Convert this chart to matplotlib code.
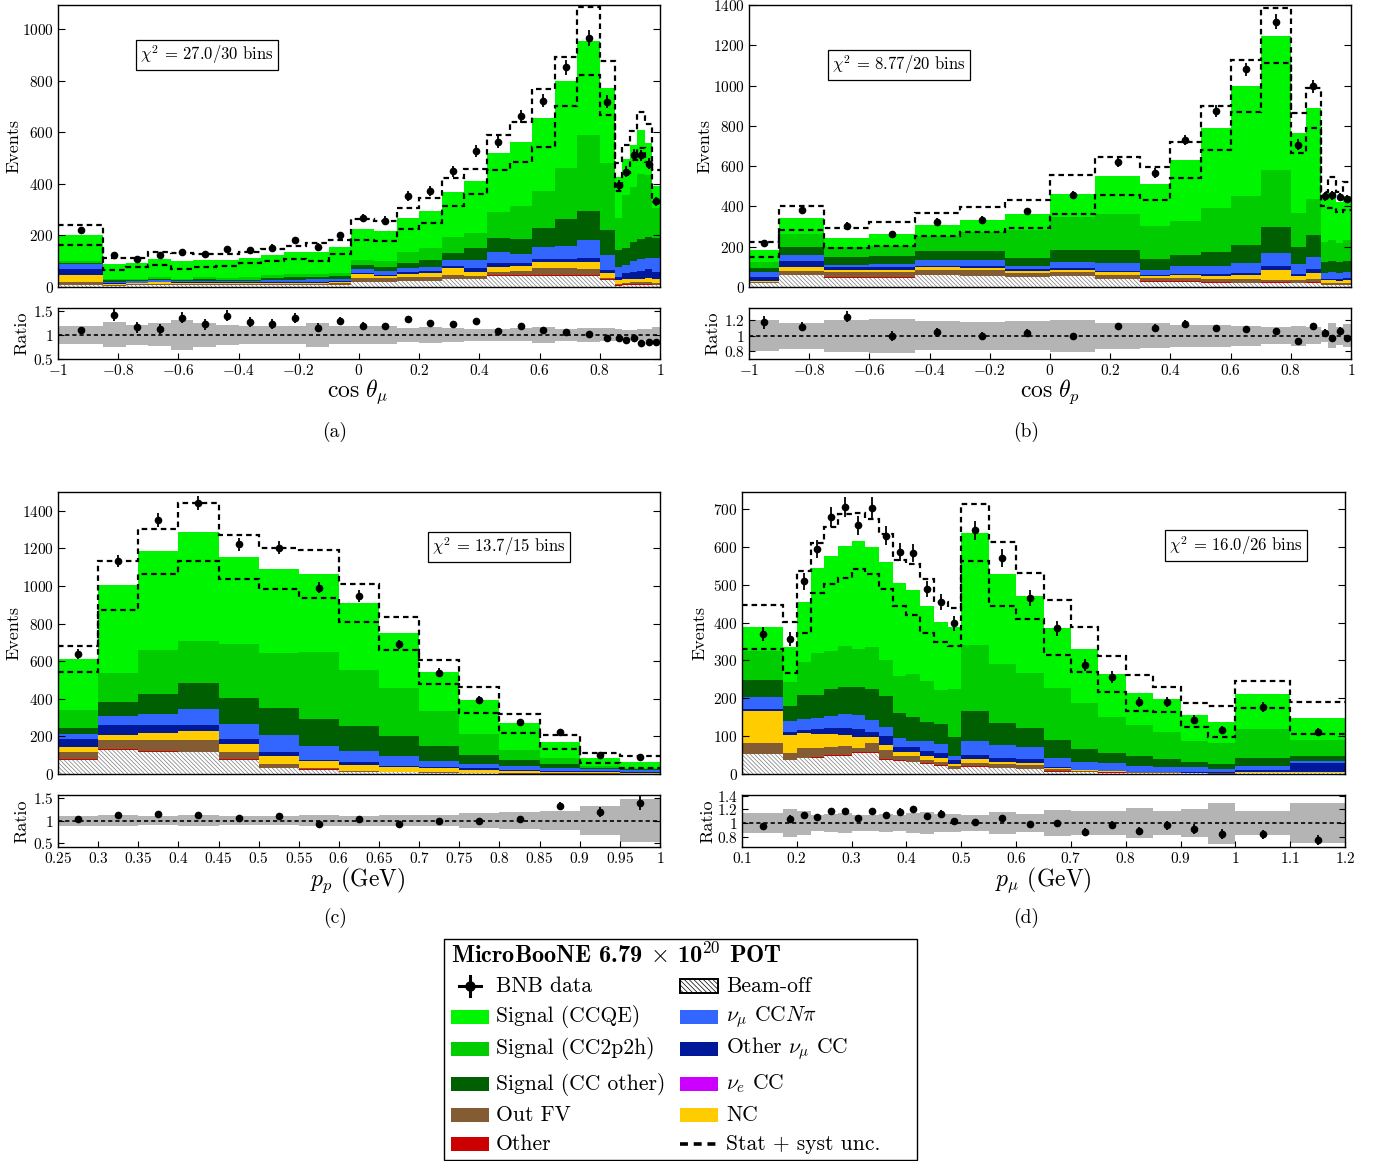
import numpy as np
import matplotlib
matplotlib.use('Agg')
import matplotlib.pyplot as plt
from matplotlib.patches import Rectangle
from matplotlib.font_manager import FontProperties

plt.rcParams.update({
    'font.family': 'serif',
    'font.serif': ['cmr10', 'DejaVu Serif'],
    'mathtext.fontset': 'cm',
    'axes.unicode_minus': False,
    'hatch.linewidth': 0.5,
    'axes.linewidth': 1.0,
})

# ---------------- data: panel (a) cos theta_mu ----------------
a_edges = [-1.0, -0.85, -0.775, -0.7, -0.625, -0.55, -0.475, -0.4, -0.325, -0.25, -0.175, -0.1, -0.025,
           0.05, 0.125, 0.2, 0.275, 0.35, 0.425, 0.5, 0.575, 0.65, 0.725, 0.8, 0.85, 0.875, 0.9, 0.925,
           0.95, 0.975, 1.0]
a_beamoff = [6, 5, 6, 8, 7, 7, 8, 7, 8, 8, 8, 9, 21, 21, 23, 23, 30, 30, 44, 44, 44, 44, 44, 27, 4, 8, 8, 8, 8, 6]
a_other = [0, 0, 0, 0, 0, 0, 0, 0, 0, 0, 0, 0, 0, 0, 1, 1, 1, 1, 1, 1, 1, 1, 1, 3, 3, 3, 3, 3, 3, 3]
a_outfv = [13, 4, 5, 5, 4, 4, 4, 4, 5, 4, 4, 5, 15, 13, 14, 16, 14, 12, 15, 19, 28, 28, 24, 6, 5, 6, 7, 7, 7, 5]
a_nc = [26, 4, 4, 5, 4, 4, 4, 4, 4, 5, 4, 5, 15, 9, 13, 16, 28, 17, 19, 19, 23, 23, 30, 20, 14, 13, 14, 15, 18, 18]
a_othercc = [26, 2, 2, 3, 3, 3, 3, 3, 3, 3, 3, 3, 5, 5, 6, 8, 10, 13, 13, 9, 13, 13, 15, 10, 14, 26, 28, 30, 32, 28]
a_ccnpi = [17, 6, 5, 7, 6, 7, 6, 6, 7, 9, 11, 10, 13, 16, 18, 15, 22, 32, 43, 36, 48, 51, 69, 59, 39, 30, 40, 45, 45, 51]
a_ccother = [7, 5, 4, 4, 3, 5, 4, 5, 8, 10, 10, 11, 17, 15, 20, 26, 26, 48, 57, 57, 74, 105, 114, 97, 65, 64, 75, 80, 80, 78]
a_cc2p2h = [6, 5, 5, 7, 6, 8, 6, 8, 10, 12, 12, 13, 19, 21, 39, 45, 65, 56, 99, 128, 140, 197, 292, 259, 123, 208, 215, 250, 240, 117]
a_ccqe = [100, 57, 64, 71, 68, 66, 70, 77, 80, 83, 84, 100, 119, 118, 133, 147, 172, 201, 230, 250, 285, 336, 366, 292, 160, 139, 160, 170, 127, 87]
a_data = [220, 124, 110, 124, 137, 127, 147, 145, 153, 182, 157, 201, 267, 258, 354, 371, 449, 527, 563, 663, 724, 853, 968, 720, 397, 447, 514, 511, 479, 332]
a_unc = [0.19, 0.26, 0.2, 0.24, 0.32, 0.25, 0.21, 0.18, 0.18, 0.18, 0.25, 0.18, 0.18, 0.18, 0.15, 0.16, 0.15, 0.12,
         0.13, 0.135, 0.17, 0.12, 0.14, 0.135, 0.13, 0.11, 0.10, 0.115, 0.13, 0.16]

# ---------------- data: panel (b) cos theta_p ----------------
b_edges = [-1.0, -0.9, -0.75, -0.6, -0.45, -0.3, -0.15, 0.0, 0.15, 0.3, 0.4, 0.5, 0.6, 0.7, 0.8, 0.85, 0.9,
           0.925, 0.95, 0.975, 1.0]
b_beamoff = [18, 60, 47, 47, 60, 55, 50, 55, 40, 27, 27, 22, 18, 20, 18, 22, 8, 8, 8, 8]
b_other = [1, 1, 1, 1, 1, 1, 1, 1, 1, 1, 1, 2, 3, 3, 2, 2, 2, 2, 2, 2]
b_outfv = [8, 19, 24, 24, 24, 28, 20, 17, 20, 17, 17, 16, 17, 12, 15, 14, 8, 8, 8, 8]
b_nc = [5, 17, 12, 12, 12, 12, 10, 12, 12, 10, 15, 15, 20, 47, 20, 30, 15, 15, 14, 15]
b_othercc = [18, 33, 13, 13, 8, 6, 6, 7, 8, 5, 5, 8, 10, 20, 10, 20, 8, 8, 8, 10]
b_ccnpi = [22, 30, 11, 16, 28, 31, 18, 33, 37, 25, 37, 39, 50, 66, 48, 60, 30, 32, 30, 33]
b_ccother = [20, 40, 42, 42, 47, 44, 37, 60, 64, 53, 55, 70, 89, 129, 84, 109, 55, 58, 55, 55]
b_cc2p2h = [33, 63, 47, 50, 75, 95, 141, 165, 180, 164, 170, 221, 245, 285, 168, 181, 95, 100, 95, 100]
b_ccqe = [60, 79, 46, 58, 55, 63, 79, 110, 190, 211, 303, 397, 546, 665, 398, 450, 214, 238, 202, 221]
b_data = [217, 383, 303, 263, 325, 335, 375, 457, 622, 565, 730, 873, 1080, 1318, 707, 997, 450, 455, 447, 438]
b_unc = [0.2, 0.17, 0.21, 0.22, 0.19, 0.18, 0.19, 0.21, 0.17, 0.16, 0.14, 0.14, 0.13, 0.11, 0.13, 0.11, 0.08,
         0.16, 0.12, 0.15]

# ---------------- data: panel (c) p_p ----------------
c_edges = [0.25, 0.3, 0.35, 0.4, 0.45, 0.5, 0.55, 0.6, 0.65, 0.7, 0.75, 0.8, 0.85, 0.9, 0.95, 1.0]
c_beamoff = [76, 129, 117, 115, 76, 32, 23, 12, 9, 5, 3, 2, 2, 1, 1]
c_other = [2, 4, 4, 3, 2, 2, 1, 1, 0, 0, 0, 0, 0, 0, 0]
c_outfv = [39, 46, 61, 64, 37, 21, 6, 5, 3, 4, 4, 3, 2, 2, 1]
c_nc = [24, 26, 35, 48, 44, 42, 37, 31, 25, 21, 16, 13, 8, 6, 5]
c_othercc = [45, 53, 41, 28, 27, 20, 9, 13, 7, 7, 7, 5, 6, 5, 5]
c_ccnpi = [26, 51, 60, 87, 79, 90, 74, 63, 50, 34, 25, 21, 16, 13, 9]
c_ccother = [32, 76, 108, 138, 138, 143, 145, 131, 106, 76, 44, 32, 21, 5, 4]
c_cc2p2h = [94, 154, 234, 224, 287, 295, 354, 297, 256, 189, 115, 53, 28, 8, 5]
c_ccqe = [274, 465, 524, 580, 464, 447, 417, 357, 292, 207, 180, 140, 87, 47, 35]
c_data = [638, 1133, 1352, 1441, 1222, 1204, 992, 946, 689, 539, 394, 276, 223, 103, 90]
c_unc = [0.11, 0.13, 0.10, 0.12, 0.10, 0.10, 0.12, 0.11, 0.12, 0.12, 0.17, 0.19, 0.21, 0.31, 0.47]

# ---------------- data: panel (d) p_mu ----------------
d_edges = [0.1, 0.175, 0.2, 0.225, 0.25, 0.275, 0.3, 0.325, 0.35, 0.375, 0.4, 0.425, 0.45, 0.475, 0.5,
           0.55, 0.6, 0.65, 0.7, 0.75, 0.8, 0.85, 0.9, 0.95, 1.0, 1.1, 1.2]
d_beamoff = [52, 37, 41, 43, 48, 48, 56, 55, 37, 34, 31, 26, 21, 12, 19, 15, 12, 6, 4, 3, 2, 2, 2, 1, 2, 2]
d_other = [1, 1, 2, 2, 2, 2, 2, 2, 2, 2, 2, 2, 2, 2, 2, 2, 2, 2, 1, 1, 1, 1, 0, 0, 0, 0]
d_outfv = [30, 18, 25, 25, 22, 24, 12, 24, 24, 12, 14, 9, 9, 6, 9, 10, 11, 4, 3, 2, 1, 1, 1, 1, 1, 1]
d_nc = [84, 47, 40, 36, 34, 29, 27, 18, 14, 11, 11, 10, 9, 6, 10, 6, 5, 3, 2, 1, 1, 0, 0, 0, 1, 1]
d_othercc = [6, 7, 8, 12, 15, 18, 21, 13, 23, 13, 14, 15, 15, 11, 9, 10, 9, 4, 1, 2, 1, 1, 2, 2, 7, 24]
d_ccnpi = [30, 30, 29, 29, 32, 37, 38, 31, 25, 24, 15, 24, 24, 11, 37, 34, 33, 24, 22, 19, 15, 14, 13, 10, 10, 6]
d_ccother = [46, 40, 64, 62, 71, 73, 75, 82, 81, 66, 63, 51, 51, 50, 80, 59, 49, 47, 32, 28, 27, 20, 15, 12, 20, 14]
d_cc2p2h = [75, 64, 86, 110, 102, 108, 100, 110, 94, 98, 114, 110, 90, 127, 174, 154, 147, 137, 122, 94, 82, 73, 54, 57, 78, 42]
d_ccqe = [65, 91, 160, 225, 251, 264, 285, 266, 261, 244, 223, 196, 180, 163, 298, 238, 203, 160, 143, 114, 85, 85, 69, 55, 92, 57]
d_data = [370, 356, 509, 594, 679, 705, 657, 704, 630, 587, 584, 489, 454, 398, 644, 570, 465, 385, 288, 256, 190, 190, 143, 116, 176, 110]
d_unc = [0.15, 0.2, 0.18, 0.12, 0.13, 0.14, 0.12, 0.12, 0.13, 0.12, 0.14, 0.16, 0.13, 0.13, 0.12, 0.16, 0.13,
         0.19, 0.18, 0.18, 0.22, 0.17, 0.21, 0.3, 0.17, 0.29]

chi_texts = [r'$\chi^2$ = 27.0/30 bins', r'$\chi^2$ = 8.77/20 bins',
             r'$\chi^2$ = 13.7/15 bins', r'$\chi^2$ = 16.0/26 bins']

legend_col1 = ['BNB data', 'Signal (CCQE)', 'Signal (CC2p2h)', 'Signal (CC other)', 'Out FV', 'Other']
legend_col2 = ['Beam-off', r'$\nu_{\mu}$ CC$N\pi$', r'Other $\nu_{\mu}$ CC', r'$\nu_{e}$ CC', 'NC',
               'Stat + syst unc.']
legend_title = r'MicroBooNE 6.79 $\times$ 10$^{\mathbf{20}}$ POT'

# ---------------- styles ----------------
COL = {
    'other': '#cc0000', 'outfv': '#845c33', 'nc': '#ffcc00', 'nue': '#cc00ff',
    'othercc': '#00189a', 'ccnpi': '#3366ff', 'ccother': '#005f00',
    'cc2p2h': '#00cc00', 'ccqe': '#00f500',
}
HATCH = '\\' * 8

W, H = 1388, 1161
fig = plt.figure(figsize=(W / 100, H / 100), dpi=100)


def fr(l, t, r, b):
    return [l / W, 1 - b / H, (r - l) / W, (b - t) / H]


def mfmt(v):
    v = float(np.round(v, 3))
    return f'${v:g}$'


def draw(main_box, ratio_box, edges, comps, data, unc, ylim, yticks, rylim, ryticks, xticks, chi, chipos,
         xlabel, xlab_pos, ylab_x, rlab_x):
    ax = fig.add_axes(fr(*main_box))
    axr = fig.add_axes(fr(*ratio_box))
    edges = np.array(edges, float)
    centers = 0.5 * (edges[1:] + edges[:-1])
    bottom = np.zeros(len(edges) - 1)
    beam = np.array(comps[0], float)
    ax.stairs(bottom + beam, edges, baseline=bottom.copy(), fill=True, facecolor='white',
              edgecolor='#7a7a7a', hatch=HATCH, linewidth=0)
    bottom = bottom + beam
    for key, vals in zip(['other', 'outfv', 'nc', 'othercc', 'ccnpi', 'ccother', 'cc2p2h', 'ccqe'], comps[1:]):
        vals = np.array(vals, float)
        ax.stairs(bottom + vals, edges, baseline=bottom.copy(), fill=True, color=COL[key], linewidth=0)
        bottom = bottom + vals
    total = bottom
    unc = np.array(unc, float)
    data = np.array(data, float)
    ax.stairs(total * (1 + unc), edges, baseline=None, color='black', linestyle=(0, (2.5, 1.8)), linewidth=1.6)
    ax.stairs(total * (1 - unc), edges, baseline=None, color='black', linestyle=(0, (2.5, 1.8)), linewidth=1.6)
    ax.errorbar(centers, data, yerr=np.sqrt(data), fmt='o', color='black', ms=4.5, elinewidth=1.3,
                capsize=0, zorder=5)
    ax.set_xlim(edges[0], edges[-1])
    ax.set_ylim(*ylim)
    ax.set_yticks(yticks)
    ax.set_yticklabels([mfmt(v) for v in yticks], fontsize=11)
    ax.set_xticks([])
    ax.tick_params(axis='y', direction='in', length=5, width=0.8, right=True, pad=3)
    ax.set_ylabel('Events', fontsize=13)
    ax.yaxis.set_label_coords(ylab_x, 0.5)
    ax.text(chipos[0], chipos[1], chi, transform=ax.transAxes, ha='center', va='center', fontsize=12,
            bbox=dict(boxstyle='square,pad=0.24', fc='white', ec='black', lw=0.9), zorder=6)
    # ratio
    axr.stairs(1 + unc, edges, baseline=1 - unc, fill=True, color='#b4b4b4', linewidth=0)
    axr.axhline(1.0, color='black', linestyle=(0, (2.5, 1.8)), linewidth=1.2)
    axr.errorbar(centers, data / total, yerr=np.sqrt(data) / total, fmt='o', color='black', ms=4.5,
                 elinewidth=1.3, capsize=0, zorder=5)
    axr.set_xlim(edges[0], edges[-1])
    axr.set_ylim(*rylim)
    axr.set_yticks(ryticks)
    axr.set_yticklabels([mfmt(v) for v in ryticks], fontsize=11)
    axr.set_xticks(xticks)
    axr.set_xticklabels([mfmt(v) for v in xticks], fontsize=11)
    axr.tick_params(direction='in', length=4, width=0.8, right=True, pad=3)
    axr.set_ylabel('Ratio', fontsize=13)
    axr.yaxis.set_label_coords(rlab_x, 0.5)
    fig.text(xlab_pos[0] / W, 1 - xlab_pos[1] / H, xlabel, ha='center', va='center', fontsize=17)


draw((58, 5, 660, 287), (58, 308, 660, 359), a_edges,
     [a_beamoff, a_other, a_outfv, a_nc, a_othercc, a_ccnpi, a_ccother, a_cc2p2h, a_ccqe],
     a_data, a_unc, (0, 1095), [0, 200, 400, 600, 800, 1000], (0.5, 1.56), [0.5, 1, 1.5],
     [-1, -0.8, -0.6, -0.4, -0.2, 0, 0.2, 0.4, 0.6, 0.8, 1], chi_texts[0], (0.247, 0.823),
     r'$\cos\,\theta_{\mu}$', (358, 392), -0.061, -0.048)

draw((749, 5, 1351, 287), (749, 308, 1351, 359), b_edges,
     [b_beamoff, b_other, b_outfv, b_nc, b_othercc, b_ccnpi, b_ccother, b_cc2p2h, b_ccqe],
     b_data, b_unc, (0, 1400), [0, 200, 400, 600, 800, 1000, 1200, 1400], (0.7, 1.36), [0.8, 1, 1.2],
     [-1, -0.8, -0.6, -0.4, -0.2, 0, 0.2, 0.4, 0.6, 0.8, 1], chi_texts[1], (0.249, 0.787),
     r'$\cos\,\theta_{p}$', (1050, 392), -0.061, -0.047)

draw((58, 492, 660, 774), (58, 795, 660, 847), c_edges,
     [c_beamoff, c_other, c_outfv, c_nc, c_othercc, c_ccnpi, c_ccother, c_cc2p2h, c_ccqe],
     c_data, c_unc, (0, 1500), [0, 200, 400, 600, 800, 1000, 1200, 1400], (0.42, 1.56), [0.5, 1, 1.5],
     [0.25, 0.3, 0.35, 0.4, 0.45, 0.5, 0.55, 0.6, 0.65, 0.7, 0.75, 0.8, 0.85, 0.9, 0.95, 1.0],
     chi_texts[2], (0.733, 0.805), r'$p_{p}$ (GeV)', (358, 880), -0.061, -0.048)

draw((742, 492, 1345, 774), (742, 795, 1345, 847), d_edges,
     [d_beamoff, d_other, d_outfv, d_nc, d_othercc, d_ccnpi, d_ccother, d_cc2p2h, d_ccqe],
     d_data, d_unc, (0, 745), [0, 100, 200, 300, 400, 500, 600, 700], (0.65, 1.41), [0.8, 1, 1.2, 1.4],
     [0.1, 0.2, 0.3, 0.4, 0.5, 0.6, 0.7, 0.8, 0.9, 1.0, 1.1, 1.2],
     chi_texts[3], (0.819, 0.809), r'$p_{\mu}$ (GeV)', (1043, 880), -0.058, -0.045)

for lab, (x, y) in zip(['(a)', '(b)', '(c)', '(d)'], [(335, 432), (1026, 432), (335, 918), (1026, 918)]):
    fig.text(x / W, 1 - y / H, lab, ha='center', va='center', fontsize=14)

# ---------------- legend (laid out in pixel coordinates) ----------------
lax = fig.add_axes(fr(443, 938, 918, 1161))
lax.set_xlim(443, 918)
lax.set_ylim(1161, 938)
lax.axis('off')
lax.add_patch(Rectangle((443.5, 938.5), 473.5, 221.5, fc='white', ec='black', lw=1.0, clip_on=False))
lax.text(451, 955, legend_title, fontproperties=FontProperties(family='cmb10', size=17.5),
         ha='left', va='center')
rows = [986, 1017, 1049, 1084, 1115, 1144]
hx1, hx2, hw, hh = 451, 680, 38, 14
col1_style = [None, COL['ccqe'], COL['cc2p2h'], COL['ccother'], COL['outfv'], COL['other']]
col2_style = ['hatch', COL['ccnpi'], COL['othercc'], COL['nue'], COL['nc'], 'dash']
for y, lab, sty in zip(rows, legend_col1, col1_style):
    if sty is None:
        cx = hx1 + 19
        lax.plot([cx - 11, cx + 11], [y, y], color='black', lw=2.2)
        lax.plot([cx, cx], [y - 10, y + 10], color='black', lw=2.2)
        lax.plot([cx], [y], marker='o', ms=6.5, color='black')
    else:
        lax.add_patch(Rectangle((hx1, y - hh / 2), hw, hh, fc=sty, ec='none'))
    lax.text(hx1 + hw + 7, y, lab, fontsize=15.5, ha='left', va='center')
for y, lab, sty in zip(rows, legend_col2, col2_style):
    if sty == 'hatch':
        lax.add_patch(Rectangle((hx2, y - hh / 2), hw, hh, fc='white', ec='black', lw=1.4,
                                hatch='\\' * 7))
    elif sty == 'dash':
        lax.plot([hx2, hx2 + hw], [y, y], color='black', lw=2.6, ls=(0, (2.2, 1.6)))
    else:
        lax.add_patch(Rectangle((hx2, y - hh / 2), hw, hh, fc=sty, ec='none'))
    lax.text(hx2 + hw + 8, y, lab, fontsize=15.5, ha='left', va='center')

fig.savefig('out.png', dpi=100)
